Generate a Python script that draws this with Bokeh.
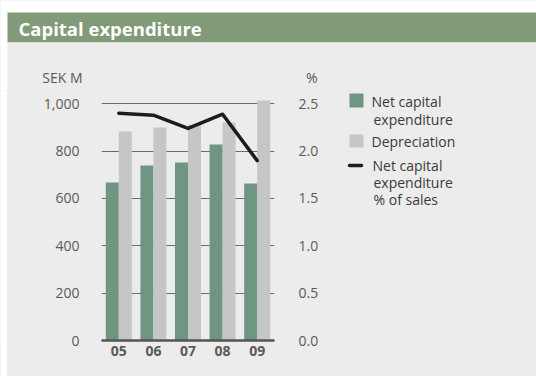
from bokeh.plotting import figure
from bokeh.layouts import column, row
from bokeh.models import (FactorRange, Range1d, LinearAxis, ColumnDataSource,
                          NumeralTickFormatter, FixedTicker)
from bokeh.core.properties import value
from bokeh.transform import dodge
from bokeh.embed import file_html
from bokeh.resources import INLINE

# Data (SEK M and % of sales)
years = ["05", "06", "07", "08", "09"]
net_capex = [667, 739, 752, 828, 663]
depreciation = [883, 900, 912, 921, 1014]
capex_pct_sales = [2.40, 2.38, 2.24, 2.39, 1.90]
left_ticks = [0, 200, 400, 600, 800, 1000]
right_ticks = [0.0, 0.5, 1.0, 1.5, 2.0, 2.5]
legend_labels = ["Net capital\nexpenditure", "Depreciation", "Net capital\nexpenditure\n% of sales"]

GREEN = "#6f9683"
GREY = "#c6c6c6"
LINE = "#1c1c1c"
PANEL = "#ececec"
HEADER = "#819a78"
TICK_TXT = "#5a5a5a"
LEG_TXT = "#3a3a3a"
FONT = "Open Sans"

W, H = 536, 376
PAD_L = 7                      # white margin left of the panel
CHART_W = 329                  # chart column width (x 7..336)
FL, FR, FT, FB = 101, 274, 90, 340   # plot frame edges on the page


def blank(width, height, x0, x1, y0, y1, fill=PANEL, **borders):
    """A bare figure whose data space equals page pixels (y downwards)."""
    opts = dict(min_border=0)
    opts.update(borders)
    f = figure(width=width, height=height, output_backend="svg", toolbar_location=None,
               x_range=Range1d(x0, x1), y_range=Range1d(y1, y0),
               x_axis_type=None, y_axis_type=None,
               background_fill_color=fill, border_fill_color=fill,
               outline_line_color=None, **opts)
    f.grid.visible = False
    return f


def txt(f, x, y, s, size="14px", color=LEG_TXT, align="left", style="normal"):
    f.text(x=[x], y=[y], text=[s], text_font=value(FONT), text_font_size=size,
           text_color=color, text_align=align, text_baseline="middle",
           text_font_style=style)


# header: green title bar plus the unit captions above the plot frame
head = blank(W, FT, 0, W, 0, FT, fill="white")
head.quad(left=[PAD_L], right=[W], top=[12], bottom=[42], color=HEADER, line_color=None)
head.quad(left=[PAD_L], right=[W], top=[42], bottom=[FT], color=PANEL, line_color=None)
txt(head, 18, 27.5, "Capital expenditure", size="18.5px", color="white", style="bold")
txt(head, 82, 77, "SEK M", color=TICK_TXT, align="right")
txt(head, 317, 77, "%", color=TICK_TXT, align="right")

# main chart
y_max = 1000 * (FB - FT) / (FB - 103.3)
p = figure(width=CHART_W, height=H - FT, output_backend="svg", toolbar_location=None,
           x_range=FactorRange(factors=years, range_padding=0),
           y_range=Range1d(0, y_max),
           min_border_left=FL - PAD_L, min_border_right=PAD_L + CHART_W - FR,
           min_border_top=0, min_border_bottom=H - FB,
           background_fill_color=PANEL, border_fill_color=PANEL,
           outline_line_color=None)
p.extra_y_ranges = {"pct": Range1d(0, y_max / 400)}

src = ColumnDataSource(dict(year=years, net=net_capex, dep=depreciation, pct=capex_pct_sales))
p.vbar(x=dodge("year", -0.188, range=p.x_range), top="net", width=0.376, source=src,
       color=GREEN, line_color=None)
p.vbar(x=dodge("year", 0.188, range=p.x_range), top="dep", width=0.376, source=src,
       color=GREY, line_color=None)
p.line(x="year", y="pct", source=src, y_range_name="pct", line_color=LINE,
       line_width=3.5, line_join="round", line_cap="round")

p.xaxis.axis_line_color = "#555555"
p.xaxis.axis_line_width = 2.5
p.xaxis.major_tick_line_color = None
p.xaxis.major_tick_out = 0
p.xaxis.major_label_standoff = 5
p.xaxis.major_label_text_font = FONT
p.xaxis.major_label_text_font_size = "14px"
p.xaxis.major_label_text_font_style = "bold"
p.xaxis.major_label_text_color = TICK_TXT

p.yaxis.ticker = FixedTicker(ticks=left_ticks)
p.yaxis.formatter = NumeralTickFormatter(format="0,0")
p.yaxis.axis_line_color = None
p.yaxis.major_tick_line_color = None
p.yaxis.minor_tick_line_color = None
p.yaxis.major_tick_out = 0
p.yaxis.major_label_standoff = 22
p.yaxis.major_label_text_font = FONT
p.yaxis.major_label_text_font_size = "14px"
p.yaxis.major_label_text_color = TICK_TXT

ax_r = LinearAxis(y_range_name="pct", ticker=FixedTicker(ticks=right_ticks),
                  formatter=NumeralTickFormatter(format="0.0"),
                  axis_line_color=None, major_tick_line_color=None,
                  minor_tick_line_color=None, major_tick_out=0, major_label_standoff=24,
                  major_label_text_font=FONT, major_label_text_font_size="14px",
                  major_label_text_color=TICK_TXT)
p.add_layout(ax_r, "right")

p.xgrid.grid_line_color = None
p.ygrid.ticker = FixedTicker(ticks=left_ticks[1:])
p.ygrid.grid_line_color = "#6a6a6a"
p.ygrid.grid_line_width = 1

# white left margin, same vertical borders as the chart
margin = blank(PAD_L, H - FT, 0, PAD_L, FT, FB, fill="white",
               min_border_top=0, min_border_bottom=H - FB)

# legend panel, same vertical borders as the chart
LX0 = PAD_L + CHART_W
leg = blank(W - LX0, H - FT, LX0, W, FT, FB, min_border_top=0, min_border_bottom=H - FB)
leg.quad(left=[349], right=[363], top=[93], bottom=[107], color=GREEN, line_color=None)
for i, line_txt in enumerate(legend_labels[0].split("\n")):
    txt(leg, 371 if i == 0 else 373, 101 + 18 * i, line_txt)
leg.quad(left=[349], right=[363], top=[134], bottom=[147], color=GREY, line_color=None)
txt(leg, 371, 141, legend_labels[1])
leg.segment(x0=[349], y0=[165], x1=[361], y1=[165], line_color=LINE, line_width=3.5,
            line_cap="round")
for i, line_txt in enumerate(legend_labels[2].split("\n")):
    txt(leg, 372 if i == 0 else 373, 165 + 17 * i, line_txt)

layout = column(head, row(margin, p, leg, styles={"background-color": PANEL}),
                styles={"background-color": PANEL})
open("out.html", "w").write(file_html(layout, INLINE))
